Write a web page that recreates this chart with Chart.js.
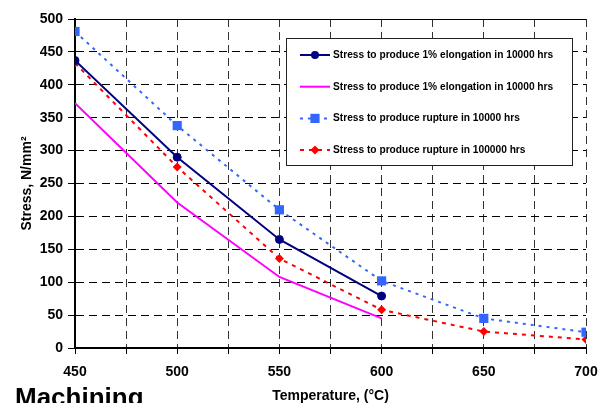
<!DOCTYPE html>
<html><head><meta charset="utf-8">
<script src="https://cdn.jsdelivr.net/npm/chart.js@4"></script>
<style>
html,body{margin:0;padding:0;background:#fff;overflow:hidden}
#wrap{position:relative;width:604px;height:403px;overflow:hidden}
#mach{position:absolute;left:15px;top:384px;font:bold 26px/26px "Liberation Sans",Arial,sans-serif;color:#000;white-space:nowrap}
canvas{display:block}
</style></head><body>
<div id="wrap"><canvas id="c" width="604" height="403"></canvas><div id="mach">Machining</div></div>
<script>
// ---- data ----
const temperatures = [450, 500, 550, 600, 650, 700];
const elongation1 = [437, 290, 165, 79];        // navy, circles
const elongation2 = [372, 221, 108, 45];        // magenta, no markers
const rupture10000 = [481, 338, 210, 102, 45, 24];
const rupture100000 = [433, 275, 136, 58, 25, 13];
const xTickLabels = [450, 500, 550, 600, 650, 700];
const yTickLabels = [0, 50, 100, 150, 200, 250, 300, 350, 400, 450, 500];
const seriesLabels = [
  'Stress to produce 1% elongation in 10000 hrs',
  'Stress to produce 1% elongation in 10000 hrs',
  'Stress to produce rupture in 10000 hrs',
  'Stress to produce rupture in 100000 hrs'
];
const xTitle = 'Temperature, (\u00B0C)';
const yTitle = 'Stress, N/mm\u00B2';

const FONT = '"Liberation Sans", Arial, sans-serif';
const pts = arr => arr.map((v, i) => ({x: temperatures[i], y: v}));

const datasets = [
  {label: seriesLabels[0], data: pts(elongation1), borderColor: '#000080', backgroundColor: '#000080',
   borderWidth: 2, pointStyle: 'circle', pointRadius: 4, pointBorderWidth: 1, borderDash: []},
  {label: seriesLabels[1], data: pts(elongation2), borderColor: '#FF00FF', backgroundColor: '#FF00FF',
   borderWidth: 2, pointRadius: 0, pointStyle: false, borderDash: []},
  {label: seriesLabels[2], data: pts(rupture10000), borderColor: '#3366FF', backgroundColor: '#3366FF',
   borderWidth: 2, pointStyle: 'rect', pointRadius: 6.5, pointBorderWidth: 0, borderDash: [3, 5]},
  {label: seriesLabels[3], data: pts(rupture100000), borderColor: '#FF0000', backgroundColor: '#FF0000',
   borderWidth: 2, pointStyle: 'rectRot', pointRadius: 4.5, pointBorderWidth: 0, borderDash: [4, 5]}
];

const boxLegend = {
  id: 'boxLegend',
  beforeDatasetsDraw(chart) {
    const ctx = chart.ctx, a = chart.chartArea;
    // solid top frame
    ctx.save();
    ctx.strokeStyle = '#000'; ctx.lineWidth = 1; ctx.setLineDash([]);
    ctx.beginPath(); ctx.moveTo(a.left, Math.round(a.top) + 0.5); ctx.lineTo(a.right, Math.round(a.top) + 0.5); ctx.stroke();
    // legend box
    const bx = 286, by = 38, bw = 286, bh = 127;
    ctx.fillStyle = '#fff'; ctx.fillRect(bx, by, bw, bh);
    ctx.strokeStyle = '#222'; ctx.strokeRect(bx + 0.5, by + 0.5, bw, bh);
    chart.data.datasets.forEach((d, i) => {
      const y = by + 17 + i * 31.7;
      ctx.strokeStyle = d.borderColor; ctx.lineWidth = d.borderWidth;
      ctx.setLineDash(d.borderDash || []);
      ctx.beginPath(); ctx.moveTo(300, y); ctx.lineTo(330, y); ctx.stroke();
      ctx.setLineDash([]);
      ctx.fillStyle = d.backgroundColor;
      const cx = 315;
      if (d.pointStyle === 'circle') { ctx.beginPath(); ctx.arc(cx, y, d.pointRadius, 0, Math.PI * 2); ctx.fill(); }
      else if (d.pointStyle === 'rect') { const s = d.pointRadius * Math.SQRT1_2; ctx.fillRect(cx - s, y - s, 2 * s, 2 * s); }
      else if (d.pointStyle === 'rectRot') { const r = d.pointRadius; ctx.beginPath(); ctx.moveTo(cx - r, y); ctx.lineTo(cx, y - r); ctx.lineTo(cx + r, y); ctx.lineTo(cx, y + r); ctx.closePath(); ctx.fill(); }
      ctx.fillStyle = '#000'; ctx.font = 'bold 10.2px ' + FONT; ctx.textBaseline = 'middle'; ctx.textAlign = 'left';
      ctx.fillText(d.label, 333, y);
    });
    ctx.restore();
  }
};

new Chart(document.getElementById('c'), {
  type: 'line',
  data: {datasets},
  plugins: [boxLegend],
  options: {
    responsive: false, animation: false, devicePixelRatio: 1,
    layout: {padding: {left: 0, right: 18, top: 19, bottom: 0}},
    elements: {line: {tension: 0}},
    plugins: {legend: {display: false}, tooltip: {enabled: false}},
    scales: {
      x: {
        type: 'linear', min: 450, max: 700,
        afterFit(s) { s.height = 55; s.paddingLeft = 0; s.paddingRight = 0; },
        ticks: {stepSize: 25, autoSkip: false, maxRotation: 0, color: '#000', padding: 10,
          font: {family: FONT, size: 14, weight: 'bold'},
          callback: v => xTickLabels.includes(v) ? String(v) : ''},
        grid: {color: '#333', lineWidth: 1, tickLength: 6, tickColor: '#000', tickBorderDash: [], tickWidth: 1},
        border: {display: true, color: '#000', width: 2, dash: [8, 5]},
        title: {display: true, text: xTitle, color: '#000', padding: {top: 0, bottom: 0},
          font: {family: FONT, size: 14, weight: 'bold', lineHeight: 1}}
      },
      y: {
        min: 0, max: 500,
        afterFit(s) { s.width = 75; s.paddingTop = 0; s.paddingBottom = 0; },
        afterBuildTicks(s) { s.ticks = yTickLabels.map(v => ({value: v})); },
        ticks: {stepSize: 50, color: '#000', padding: 5,
          font: {family: FONT, size: 14, weight: 'bold'}},
        grid: {color: '#000', lineWidth: 1, tickLength: 7, tickColor: '#000', tickBorderDash: [], tickWidth: 1},
        border: {display: true, color: '#000', width: 2, dash: [8, 5]},
        title: {display: true, text: yTitle, color: '#000', padding: {top: 20, bottom: 0},
          font: {family: FONT, size: 14, weight: 'bold', lineHeight: 1}}
      }
    }
  }
});
</script>
</body></html>
